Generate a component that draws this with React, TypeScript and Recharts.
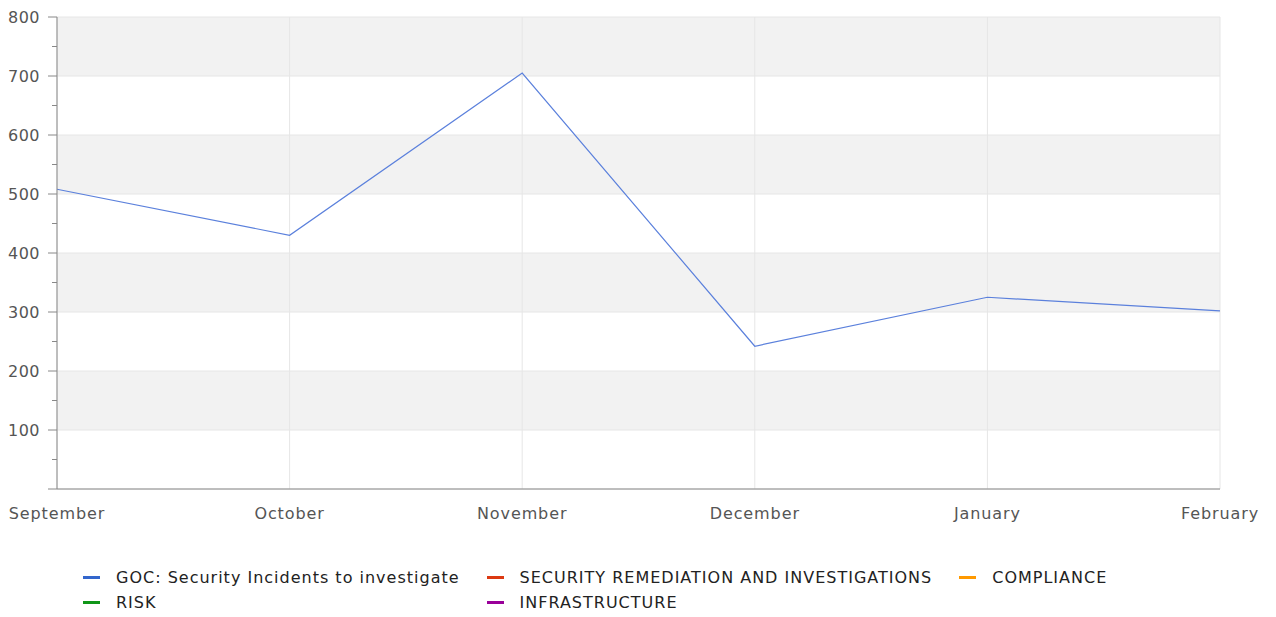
import { LineChart, Line, XAxis, YAxis, CartesianGrid, Legend } from 'recharts';

const months = ['September', 'October', 'November', 'December', 'January', 'February'];
const gocIncidents = [508, 430, 705, 242, 325, 302];

const seriesNames = [
  'GOC: Security Incidents to investigate',
  'SECURITY REMEDIATION AND INVESTIGATIONS',
  'COMPLIANCE',
  'RISK',
  'INFRASTRUCTURE',
];
const seriesKeys = ['goc', 'remediation', 'compliance', 'risk', 'infrastructure'];
const seriesColors = ['#3366cc', '#dc3912', '#ff9900', '#109618', '#990099'];

const yDomain = [0, 800];
const yTicks = [0, 50, 100, 150, 200, 250, 300, 350, 400, 450, 500, 550, 600, 650, 700, 750, 800];
const yMajor = [0, 100, 200, 300, 400, 500, 600, 700, 800];

const data = months.map((m, i) => ({ month: m, goc: gocIncidents[i] }));

const FONT = '"DejaVu Sans", sans-serif';

const YTick = (props: any) => {
  const { x, y, payload } = props;
  const v = payload.value;
  const major = v % 100 === 0;
  return (
    <g>
      <line x1={x - (major ? 9 : 5)} x2={x} y1={y} y2={y} stroke="#888" strokeWidth={1} />
      {major && v > 0 && (
        <text x={x - 17} y={y} dy="0.355em" textAnchor="end" fill="#555" fontSize={16} fontFamily={FONT} letterSpacing={0.5}>
          {v}
        </text>
      )}
    </g>
  );
};

// grid lines only at the labelled (major) ticks
const majorRows = (args: any) => {
  const s = args?.yAxis?.scale;
  if (typeof s === 'function') return yMajor.map((v) => s(v));
  if (s && typeof s.map === 'function') return yMajor.map((v) => s.map(v));
  const { top, height } = args.offset;
  return yMajor.map((v) => top + height * (1 - (v - yDomain[0]) / (yDomain[1] - yDomain[0])));
};

const LegendBox = () => (
  <div
    style={{
      display: 'grid',
      gridTemplateColumns: 'auto auto auto',
      columnGap: 27,
      justifyContent: 'start',
      paddingLeft: 83,
      paddingTop: 36,
      fontFamily: FONT,
      fontSize: 16,
      letterSpacing: 1,
      color: '#222',
    }}
  >
    {seriesNames.map((name, i) => (
      <div key={name} style={{ display: 'flex', alignItems: 'center', height: 25, whiteSpace: 'nowrap' }}>
        <span style={{ display: 'inline-block', width: 17, height: 3, background: seriesColors[i], marginRight: 16 }} />
        <span>{name}</span>
      </div>
    ))}
  </div>
);

export default function App() {
  return (
    <div style={{ position: 'absolute', left: 0, top: 0, width: 1276, height: 617, background: '#fff' }}>
      <LineChart width={1276} height={617} data={data} margin={{ top: 17, right: 56, left: 0, bottom: 0 }}>
        <CartesianGrid
          stroke="#e6e6e6"
          horizontalFill={['#f2f2f2', '#ffffff']}
          horizontalCoordinatesGenerator={majorRows}
        />
        <XAxis
          dataKey="month"
          padding={{ left: 0, right: 0 }}
          tickLine={false}
          tickSize={0}
          tickMargin={19}
          height={40}
          interval={0}
          stroke="#888"
          tick={{ fill: '#555', fontSize: 16, fontFamily: FONT, letterSpacing: 0.9 }}
        />
        <YAxis
          width={57}
          domain={yDomain}
          ticks={yTicks}
          interval={0}
          tickLine={false}
          tickSize={0}
          tickMargin={0}
          stroke="#888"
          tick={<YTick />}
        />
        <Legend verticalAlign="bottom" height={88} content={<LegendBox />} wrapperStyle={{ left: 0, width: 1276 }} />
        {seriesKeys.map((k, i) => (
          <Line
            key={k}
            dataKey={k}
            name={seriesNames[i]}
            stroke={i === 0 ? '#5b80dc' : seriesColors[i]}
            strokeWidth={1.2}
            dot={false}
            activeDot={false}
            isAnimationActive={false}
          />
        ))}
      </LineChart>
    </div>
  );
}
